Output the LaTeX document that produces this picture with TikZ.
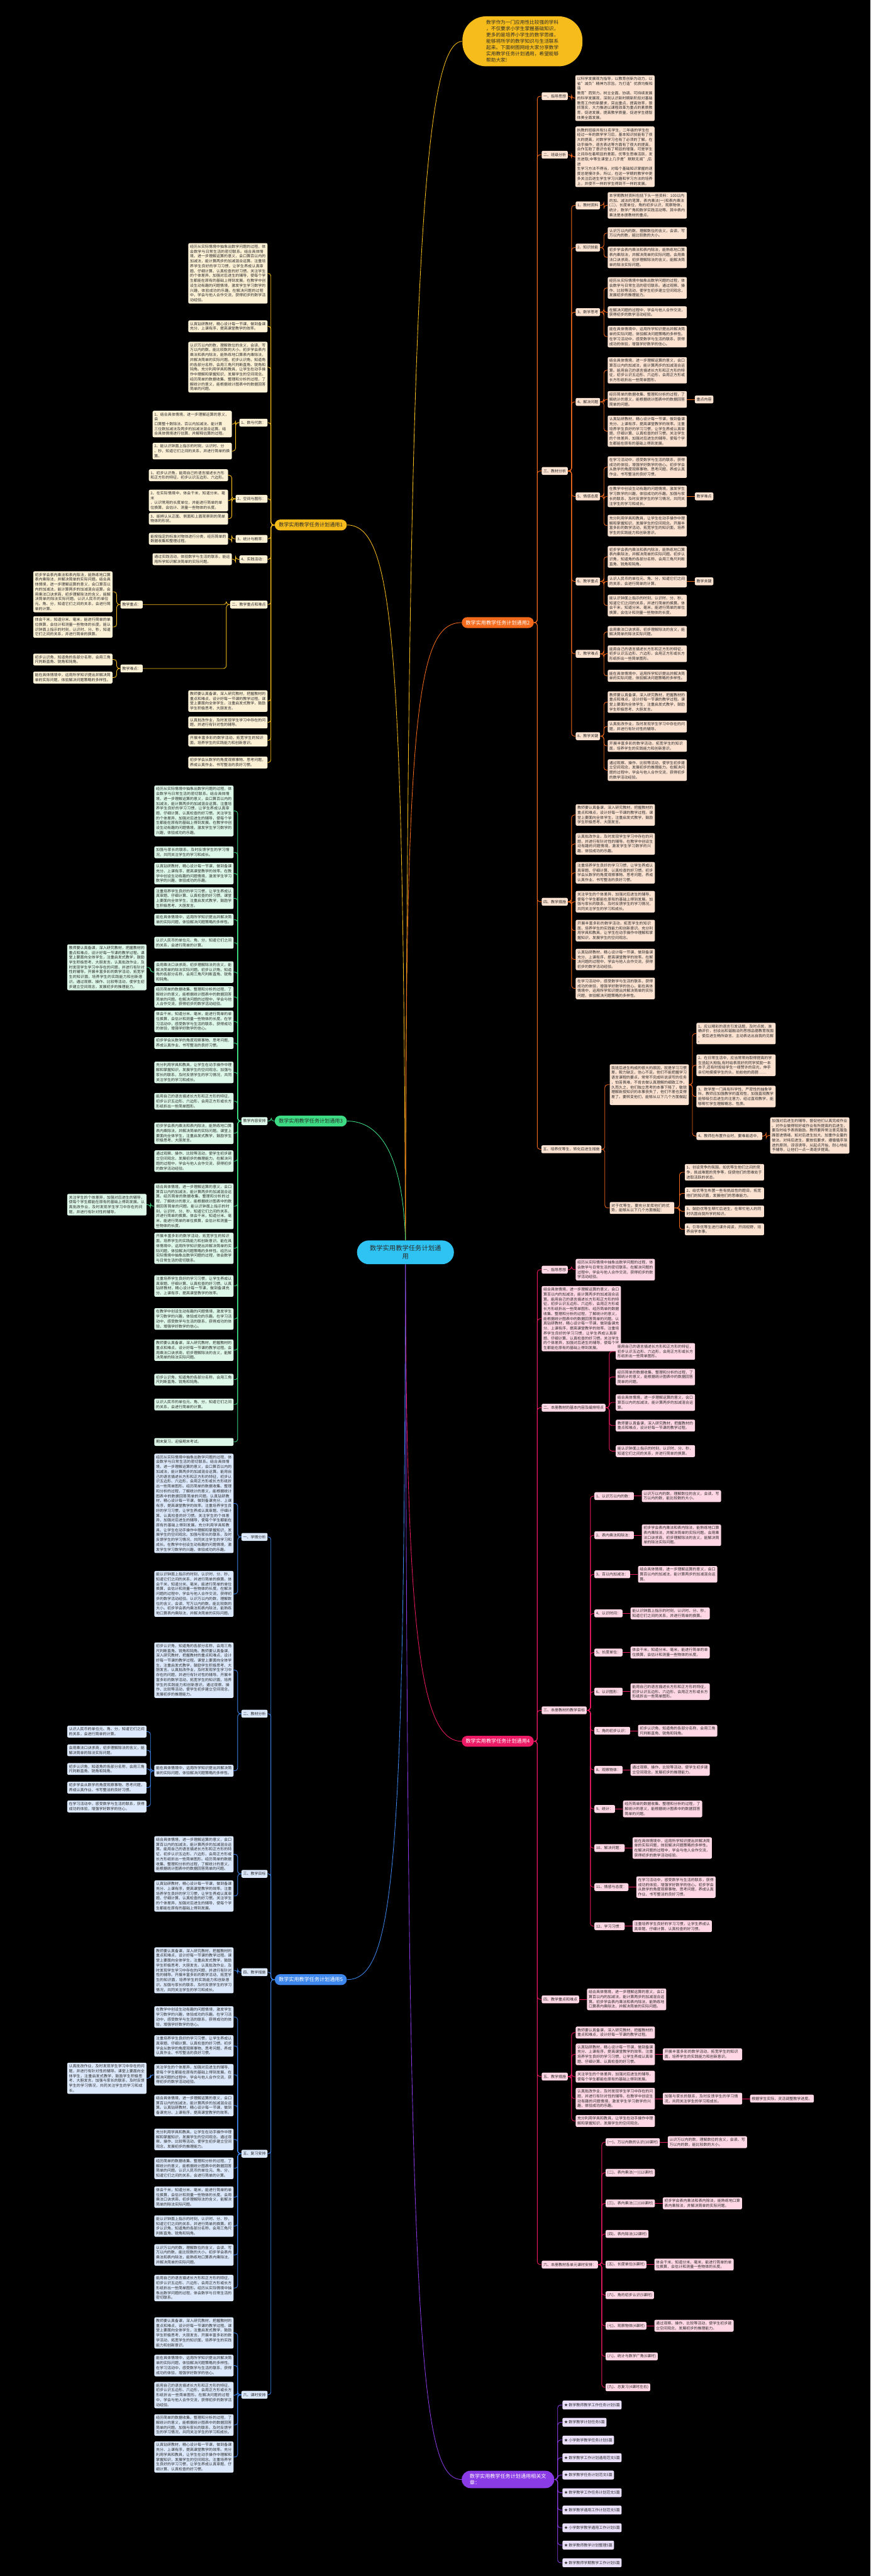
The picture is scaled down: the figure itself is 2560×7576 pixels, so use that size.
\documentclass[tikz,border=0pt]{standalone}
\usepackage{fontspec}
\setmainfont{Noto Sans CJK SC}
\XeTeXlinebreaklocale "zh"
\XeTeXlinebreakskip=0pt plus 1pt
\usetikzlibrary{positioning}
\definecolor{Y}{HTML}{F6BC1B}
\definecolor{YL}{HTML}{FCF0D5}
\definecolor{O}{HTML}{F46A1C}
\definecolor{OL}{HTML}{FCE2D1}
\definecolor{G}{HTML}{3DDC84}
\definecolor{GL}{HTML}{DDF8E8}
\definecolor{P}{HTML}{EC1A64}
\definecolor{PL}{HTML}{FFD7E5}
\definecolor{B}{HTML}{3D86EC}
\definecolor{BL}{HTML}{DCE9FC}
\definecolor{V}{HTML}{8A3BE6}
\definecolor{VL}{HTML}{EBE0FB}
\definecolor{C}{HTML}{2EC3F2}
\definecolor{TX}{HTML}{2B2B2B}
\tikzset{
 base/.style={rounded corners=4pt, inner xsep=5pt, inner ysep=5pt, text=TX,
   font=\fontsize{11.1}{14.3}\selectfont, align=left, minimum height=23pt},
 lY/.style={base, fill=YL}, lO/.style={base, fill=OL}, lG/.style={base, fill=GL},
 lP/.style={base, fill=PL}, lB/.style={base, fill=BL}, lV/.style={base, fill=VL},
 wb/.style={text width=223pt},
 br/.style={rounded corners=16pt, minimum height=32pt, minimum width=212pt, inner sep=3pt,
   font=\fontsize{15}{18}\selectfont},
 cn/.style={line width=1.6pt, rounded corners=8pt},
 cY/.style={cn, draw=Y}, cO/.style={cn, draw=O}, cG/.style={cn, draw=G},
 cP/.style={cn, draw=P}, cB/.style={cn, draw=B}, cV/.style={cn, draw=V},
}
\newcommand\cR[4]{\draw[#1] (#2.east) -- ++(#4,0) |- (#3.west);}
\newcommand\cL[4]{\draw[#1] (#2.west) -- ++(-#4,0) |- (#3.east);}
\newcommand\RX[5]{\node[#2,wb,anchor=north west] (#1) at (#3,#4) {#5};}
\newcommand\LX[5]{\node[#2,wb,anchor=north east] (#1) at (#3,#4) {#5};}
\newcommand\RL[5]{\node[#2,anchor=west] (#1) at (#3,#4) {#5};}
\newcommand\LL[5]{\node[#2,anchor=east] (#1) at (#3,#4) {#5};}
\def\QA{结合具体情境，进一步理解运算的意义，会口算百以内的加减法，能计算两步的加减混合运算。}
\def\QB{能用自己的语言描述长方形和正方形的特征，初步认识五边形、六边形，会用正方形或长方形纸折出一些简单图形。}
\def\QC{经历简单的数据收集、整理和分析的过程，了解统计的意义，能根据统计图表中的数据回答简单的问题。}
\def\QD{认真钻研教材，精心设计每一节课，做到备课充分、上课有序，提高课堂教学的效率。}
\def\QE{注重培养学生良好的学习习惯，让学生养成认真审题、仔细计算、认真检查的好习惯。}
\def\QF{关注学生的个体差异，加强对后进生的辅导，使每个学生都能在原有的基础上得到发展。}
\def\QG{充分利用学具和教具，让学生在动手操作中理解和掌握知识，发展学生的空间观念。}
\def\QH{加强与家长的联系，及时反馈学生的学习情况，共同关注学生的学习和成长。}
\def\QI{在教学中创设生动有趣的问题情境，激发学生学习数学的兴趣，体验成功的乐趣。}
\def\QJ{能认识钟面上指示的时刻，认识时、分、秒，知道它们之间的关系，并进行简单的换算。}
\def\QK{体会千米，知道分米、毫米，能进行简单的单位换算，会估计和测量一些物体的长度。}
\def\QL{经历从实际情境中抽象出数学问题的过程，体会数学与日常生活的密切联系。}
\def\QM{在解决问题的过程中，学会与他人合作交流，获得初步的数学活动经验。}
\def\QN{认识万以内的数，理解数位的含义，会读、写万以内的数，能比较数的大小。}
\def\QO{初步学会表内乘法和表内除法，能熟练地口算表内乘除法，并解决简单的实际问题。}
\def\QP{初步认识角，知道角的各部分名称，会用三角尺判断直角、锐角和钝角。}
\def\QQ{教师要认真备课，深入研究教材，把握教材的重点和难点，设计好每一节课的教学过程。}
\def\QR{课堂上要面向全体学生，注重启发式教学，鼓励学生积极思考、大胆发言。}
\def\QS{认真批改作业，及时发现学生学习中存在的问题，并进行有针对性的辅导。}
\def\QT{开展丰富多彩的数学活动，拓宽学生的知识面，培养学生的实践能力和创新意识。}
\def\QU{通过观察、操作、比较等活动，使学生初步建立空间观念，发展初步的推理能力。}
\def\QV{认识人民币的单位元、角、分，知道它们之间的关系，会进行简单的计算。}
\def\QW{会用乘法口诀求商，初步理解除法的含义，能解决简单的除法实际问题。}
\def\QX{能在具体情境中，运用所学知识提出并解决简单的实际问题，体验解决问题策略的多样性。}
\def\QY{在学习活动中，感受数学与生活的联系，获得成功的体验，增强学好数学的信心。}
\def\QZ{初步学会从数学的角度观察事物、思考问题，养成认真作业、书写整洁的良好习惯。}
\begin{document}
\begin{tikzpicture}[x=1pt,y=-1pt]
\fill[black] (0,0) rectangle (2560,7576);
\useasboundingbox (0,0) rectangle (2560,7576);

% ---------------- centre and main branches
\node[fill=C, rounded corners=35pt, minimum width=285pt, minimum height=70pt, text width=215pt,
  align=center, text=TX, font=\fontsize{19}{24}\selectfont] (CT) at (1192.5,3683) {数学实用教学任务计划通\\用};
\node[fill=Y, rounded corners=70pt, minimum width=353pt, minimum height=147pt, align=left, text=TX,
  font=\fontsize{14.2}{18.3}\selectfont] (TOP) at (1536.5,121.5) {数学作为一门应用性比较强的学科\\，不仅要求小学生掌握基础知识，\\更多的是培养小学生的数学思维，\\能够将所学的数学知识与生活联系\\起来。下面树图网给大家分享数学\\实用教学任务计划通用，希望能够\\帮助大家!};
\node[br, fill=Y, text=TX] (B1) at (914,1544) {数学实用教学任务计划通用1};
\node[br, fill=O, text=white] (B2) at (1464,1831) {数学实用教学任务计划通用2};
\node[br, fill=G, text=TX] (B3) at (914,3297) {数学实用教学任务计划通用3};
\node[br, fill=P, text=white] (B4) at (1464,5121) {数学实用教学任务计划通用4};
\node[br, fill=B, text=white] (B5) at (914,5822) {数学实用教学任务计划通用5};
\node[br, fill=V, text=white, minimum width=272pt, minimum height=51pt, rounded corners=25pt, align=left]
  (B6) at (1494,7292) {数学实用教学任务计划通用相关文\\章：};

\draw[Y, line width=1.6pt] (CT.north) .. controls (1200,1000) and (1235,121) .. (TOP.west);
\draw[Y, line width=1.6pt] (CT.north) .. controls (1185,1900) and (1160,1544) .. (B1.east);
\draw[O, line width=1.6pt] (CT.north) .. controls (1192,2100) and (1225,1831) .. (B2.west);
\draw[G, line width=1.6pt] (CT.north) .. controls (1185,3400) and (1120,3297) .. (B3.east);
\draw[P, line width=1.6pt] (CT.south) .. controls (1195,4800) and (1235,5121) .. (B4.west);
\draw[B, line width=1.6pt] (CT.south) .. controls (1188,5500) and (1160,5822) .. (B5.east);
\draw[V, line width=1.6pt] (CT.south) .. controls (1198,6900) and (1235,7292) .. (B6.west);

% ---------------- branch 1 (left, yellow)
\LX{D1}{lY}{787}{715}{\QL\QA\QE\QF\QI\QM}
\LX{D2}{lY}{787}{942}{\QD}
\LX{D3}{lY}{787}{1005}{\QN\QO\QP\QG\QC}
\LL{L1a}{lY}{787}{1243}{1、数与代数：}
\LX{A1}{lY}{682}{1208}{1、结合具体情境，进一步理解运算的意义，会\\口算整十数除法、百以内加减法、能计算\\三位数加减法及两步的加减法混合运算。结\\合具体情境进行估算，并解释估算的过程。}
\LX{A2}{lY}{682}{1302}{2、能认识钟面上指示的时刻，认识时、分\\、秒，知道它们之间的关系，并进行简单的换\\算。}
\LL{L1b}{lY}{787}{1467}{2、空间与图形：}
\LX{B1a}{lY}{671}{1380}{1、初步认识角，能用自己的语言描述长方形\\和正方形的特征，初步认识五边形、六边形。}
\LX{B1b}{lY}{671}{1440}{2、在实际情境中，体会千米，知道分米、毫米\\，认识常用的长度单位，并能进行简单的单\\位换算，会估计、测量一些物体的长度。}
\LX{B1c}{lY}{671}{1508}{3、能辨认从正面、侧面和上面观察到的简单物体的形状。}
\LL{L1c}{lY}{787}{1585}{3、统计与概率：}
\LX{C1a}{lY}{671}{1567}{能按指定的标准对物体进行分类，经历简单的数据收集和整理过程。}
\LL{L1d}{lY}{787}{1645}{4、实践活动：}
\LX{D1a}{lY}{682}{1627}{通过实践活动，体验数学与生活的联系，能运用所学知识解决简单的实际问题。}
\LL{L1e}{lY}{787}{1778}{二、教学重点和难点}
\LL{K1}{lY}{420}{1778}{教学重点：}
\LX{K1a}{lY}{331}{1680}{\QO\QA\QW\QV}
\LX{K1b}{lY}{331}{1812}{\QK\QJ}
\LL{K2}{lY}{420}{1966}{教学难点：}
\LX{K2a}{lY}{331}{1922}{\QP}
\LX{K2b}{lY}{331}{1975}{\QX}
\LX{D4}{lY}{787}{2030}{\QQ\QR}
\LX{D5}{lY}{787}{2107}{\QS}
\LX{D6}{lY}{787}{2160}{\QT}
\LX{D7}{lY}{787}{2225}{\QZ}
\foreach \c in {D1,D2,D3,L1a,L1b,L1c,L1d,L1e,D4,D5,D6,D7}{\cL{cY}{B1}{\c}{11}}
\cL{cY}{L1a}{A1}{11} \cL{cY}{L1a}{A2}{11}
\cL{cY}{L1b}{B1a}{11} \cL{cY}{L1b}{B1b}{11} \cL{cY}{L1b}{B1c}{11}
\cL{cY}{L1c}{C1a}{11} \cL{cY}{L1d}{D1a}{11}
\cL{cY}{L1e}{K1}{11} \cL{cY}{L1e}{K2}{11}
\cL{cY}{K1}{K1a}{11} \cL{cY}{K1}{K1b}{11}
\cL{cY}{K2}{K2a}{11} \cL{cY}{K2}{K2b}{11}

% ---------------- branch 2 (right, orange)
\RL{L2a}{lO}{1593}{283}{一、指导思想}
\RX{X2a}{lO}{1692}{221}{以科学发展观为指导，以教育创新为动力，以\\省"减负"精神为宗旨。为打造"优质均衡和谐\\教育"而努力。树立全面、协调、可持续发展\\的科学发展观，深刻认识新时期新阶段对基础\\教育工作的新要求，突出重点，提高效率，狠\\抓落实，大力推进以课程改革为重点的素质教\\育，促进发展，提高教学质量，促进学生德智\\体美全面发展。}
\RL{L2b}{lO}{1593}{455}{二、班级分析}
\RX{X2b}{lO}{1692}{372}{执教的班级共有51名学生，二年级的学生在\\经过一年的数学学习后，基本知识技能有了很\\大的提高，对数学学习也有了必须的了解。在\\动手操作，语言表达等方面有了很大的提高，\\合作互助了意识也有了明显的增强，可是学生\\之间存在着明显的差距。优等生思维活跃，发\\言进取;中等生课堂上几乎是"默默无闻";后进\\生学习方法不得当，对每个基础知识掌握的速\\度总是慢许多。所以，在这一学期的教学中更\\多关注后进生学生学习兴趣和学习方法的培养\\上，并使不一样的学生得到不一样的发展。}
\RL{L2c}{lO}{1593}{1385}{三、教材分析}
\RL{G1}{lO}{1693}{604}{1、教材资料}
\RX{o1}{lO}{1787}{565}{本学期教材资料包括下头一些资料：100以内的加、减法的笔算，表内乘法(一)和表内乘法(二)，长度单位，角的初步认识，观察物体，统计，数学广角和数学实践活动等。其中表内乘法是本册教材的重点。}
\RL{G2}{lO}{1693}{728}{2、知识技能}
\RX{o2}{lO}{1787}{668}{\QN}
\RX{o3}{lO}{1787}{725}{\QO\QW}
\RL{G3}{lO}{1693}{918}{3、数学思考}
\RX{o4}{lO}{1787}{815}{\QL\QU}
\RX{o5}{lO}{1787}{901}{\QM}
\RX{o6}{lO}{1787}{958}{\QX\QY}
\RL{G4}{lO}{1693}{1182}{4、解决问题}
\RX{o7}{lO}{1787}{1050}{\QA\QB}
\RX{o8}{lO}{1787}{1150}{\QC}
\RX{o9}{lO}{1787}{1222}{\QD\QE\QF}
\RL{G5}{lO}{1693}{1460}{5、情感态度}
\RX{o10}{lO}{1787}{1342}{\QY\QZ}
\RX{o11}{lO}{1787}{1428}{\QI\QH}
\RX{o12}{lO}{1787}{1514}{\QG\QT}
\RL{G6}{lO}{1693}{1710}{6、教学重点}
\RX{o13}{lO}{1787}{1606}{\QO\QP}
\RX{o14}{lO}{1787}{1692}{\QV}
\RX{o15}{lO}{1787}{1749}{\QJ\QK}
\RL{G7}{lO}{1693}{1923}{7、教学难点}
\RX{o16}{lO}{1787}{1841}{\QW}
\RX{o17}{lO}{1787}{1898}{\QB}
\RX{o18}{lO}{1787}{1970}{\QX}
\RL{G8}{lO}{1693}{2165}{8、教学关键}
\RX{o19}{lO}{1787}{2033}{\QQ\QR}
\RX{o20}{lO}{1787}{2119}{\QS}
\RX{o21}{lO}{1787}{2176}{\QT}
\RX{o22}{lO}{1787}{2233}{\QU\QM}
\node[lO, right=23pt of o8] (sd1) {重点内容};
\node[lO, right=23pt of o11] (sd2) {教学难点};
\node[lO, right=23pt of o14] (sd3) {教学关键};
\draw[cO] (o8) -- (sd1); \draw[cO] (o11) -- (sd2); \draw[cO] (o14) -- (sd3);
\RL{L2d}{lO}{1593}{2652}{四、教学措施}
\RX{w1}{lO}{1693}{2365}{\QQ\QR}
\RX{w2}{lO}{1693}{2450}{\QS\QI}
\RX{w3}{lO}{1693}{2535}{\QE\QZ}
\RX{w4}{lO}{1693}{2620}{\QF\QH}
\RX{w5}{lO}{1693}{2705}{\QT\QG}
\RX{w6}{lO}{1693}{2790}{\QD\QM}
\RX{w7}{lO}{1693}{2875}{\QY\QX}
\RL{L2e}{lO}{1592}{3380}{五、培养优等生，转化后进生措施}
\RX{X2e1}{lO}{1793}{3130}{我班后进生构成的很大的原因，就是学习习惯\\差，毅力缺乏，信心不足。他们不能把握学习\\语言课程的要点，常常不完成听说读写的任务\\，怕苦畏难，不肯去做认真理解的细致工作，\\久而久之，他们独立思考的本事下降了，敏锐\\理解新授知识的本事丧失了，他们不差也变得\\差了。要转变他们，能够从以下几个方面做起\\：}
\RX{X2e1a}{lO}{2048}{3008}{1、应以精彩的语言引发话题，及时点拨，准\\确评价，创设出和谐融洽的思想品德教育氛围\\，使后进生畅所欲言、主动表达出自我的见解\\。}
\RX{X2e1b}{lO}{2048}{3101}{2、在日常生活中，应当常常向取得提高的学\\生竖起大拇指,有时给表现好的同学奖励一本\\本子,还有时投给学生一缕赞许的目光，伸手\\亲切地摸摸学生的头，拍拍他的肩膀……}
\RX{X2e1c}{lO}{2048}{3193}{3、数学是一门具有科学性、严密性的抽象学\\科，教师应加强教学的直观性，加强直观教学\\能够吸引后进生的注意力，经过直观教学，能\\够帮忙学生理解概念、性质。}
\RL{L2e1d}{lO}{2048}{3341}{4、教师在布置作业时，要难易适中，}
\RX{X2e1d}{lO}{2265}{3286}{加强对后进生的辅导，督促他们认真完成作业\\。对作业做得较好或作业有所提高的后进生，\\要及时给予表扬鼓励。教师要异常注意克服急\\躁冒进情绪，如对后进生加大、加重作业量的\\做法。对待后进生，要放低要求，遵循循序渐\\进的原则，谆谆诱导，从起点开始，耐心地给\\予辅导，让他们一点一滴逐步提高。}
\node[lO, text width=180pt, anchor=north west] (X2e2) at (1793,3535) {对于优等生，要充分发挥他们的优势，能够从以下几个方面做起：};
\RX{y1}{lO}{2014}{3423}{1、创设竞争的氛围，如优等生他们之间的竞\\争，挑战难题的竞争等，促使他们的思维处于\\进取活跃的状态。}
\RX{y2}{lO}{2014}{3492}{2、给优等生布置一些有挑战性的题目，拓宽他们的知识面，发展他们的思维能力。}
\RX{y3}{lO}{2014}{3545}{3、鼓励优等生帮忙后进生，在帮忙他人的同时巩固自我所学的知识。}
\RX{y4}{lO}{2014}{3598}{4、引导优等生进行课外阅读，开阔视野，培养自学本事。}
\foreach \c in {L2a,L2b,L2c,L2d,L2e}{\cR{cO}{B2}{\c}{10}}
\cR{cO}{L2a}{X2a}{11} \cR{cO}{L2b}{X2b}{11}
\foreach \c in {G1,G2,G3,G4,G5,G6,G7,G8}{\cR{cO}{L2c}{\c}{11}}
\cR{cO}{G1}{o1}{11}
\cR{cO}{G2}{o2}{11} \cR{cO}{G2}{o3}{11}
\cR{cO}{G3}{o4}{11} \cR{cO}{G3}{o5}{11} \cR{cO}{G3}{o6}{11}
\cR{cO}{G4}{o7}{11} \cR{cO}{G4}{o8}{11} \cR{cO}{G4}{o9}{11}
\cR{cO}{G5}{o10}{11} \cR{cO}{G5}{o11}{11} \cR{cO}{G5}{o12}{11}
\cR{cO}{G6}{o13}{11} \cR{cO}{G6}{o14}{11} \cR{cO}{G6}{o15}{11}
\cR{cO}{G7}{o16}{11} \cR{cO}{G7}{o17}{11} \cR{cO}{G7}{o18}{11}
\cR{cO}{G8}{o19}{11} \cR{cO}{G8}{o20}{11} \cR{cO}{G8}{o21}{11} \cR{cO}{G8}{o22}{11}
\foreach \c in {w1,w2,w3,w4,w5,w6,w7}{\cR{cO}{L2d}{\c}{11}}
\cR{cO}{L2e}{X2e1}{10} \cR{cO}{L2e}{X2e2}{10}
\cR{cO}{X2e1}{X2e1a}{10} \cR{cO}{X2e1}{X2e1b}{10} \cR{cO}{X2e1}{X2e1c}{10} \cR{cO}{X2e1}{L2e1d}{10}
\cR{cO}{L2e1d}{X2e1d}{11}
\foreach \c in {y1,y2,y3,y4}{\cR{cO}{X2e2}{\c}{15}}

% ---------------- branch 3 (left, green)
\LL{L3}{lG}{787}{3297}{教学内容安排}
\LX{g1}{lG}{687}{2310}{\QL\QA\QE\QF\QI}
\LX{g2}{lG}{687}{2489}{\QH}
\LX{g3}{lG}{687}{2537}{\QD\QI}
\LX{g4}{lG}{687}{2610}{\QE\QR}
\LX{g5}{lG}{687}{2687}{\QX}
\LX{g6}{lG}{687}{2755}{\QV}
\LX{g7}{lG}{687}{2827}{\QW\QP}
\LX{g8}{lG}{687}{2900}{\QC\QM}
\LX{g9}{lG}{687}{2972}{\QK\QY}
\LX{g10}{lG}{687}{3050}{\QZ}
\LX{g11}{lG}{687}{3122}{\QG\QH}
\LX{g12}{lG}{687}{3214}{\QB}
\LX{g13}{lG}{687}{3301}{\QO\QR}
\LX{g14}{lG}{687}{3383}{\QU\QM}
\LX{g15}{lG}{687}{3480}{\QA\QC\QJ\QK}
\LX{g16}{lG}{687}{3625}{\QT\QX\QL}
\LX{g17}{lG}{687}{3750}{\QE\QD}
\LX{g18}{lG}{687}{3847}{\QI\QY}
\LX{g19}{lG}{687}{3939}{\QQ\QW}
\LX{g20}{lG}{687}{4040}{\QP}
\LX{g21}{lG}{687}{4113}{\QV}
\LX{g22}{lG}{687}{4229}{期末复习，迎接期末考试。}
\LX{GG1}{lG}{431}{2777}{\QQ\QR\QS\QT\QU}
\LX{GG2}{lG}{431}{3511}{\QF\QS}
\cL{cG}{B3}{L3}{10}
\foreach \c in {g1,g2,g3,g4,g5,g6,g7,g8,g9,g10,g11,g12,g13,g14,g15,g16,g17,g18,g19,g20,g21,g22}{\cL{cG}{L3}{\c}{11}}
\cL{cG}{g7}{GG1}{11} \cL{cG}{g15}{GG2}{11}

% ---------------- branch 4 (right, pink)
\RL{P1}{lP}{1593}{3734}{一、指导思想}
\node[lP, wb, right=23pt of P1] (p1) {\QL\QM};
\RX{P2}{lP}{1593}{3782}{\QA\QB\QC\QD\QE\QF}
\RL{P3}{lP}{1593}{4140}{二、本册教材的基本内容及编排特点}
\RX{p3a}{lP}{1811}{3950}{\QB}
\RX{p3b}{lP}{1811}{4025}{\QC}
\RX{p3c}{lP}{1811}{4100}{\QA}
\RX{p3d}{lP}{1811}{4175}{\QQ}
\RX{p3e}{lP}{1811}{4250}{\QJ}
\RL{P4}{lP}{1593}{5030}{三、本册教材的教学目标}
\RL{q1}{lP}{1748}{4400}{1、认识万以内的数：}
\RL{q2}{lP}{1748}{4515}{2、表内乘法和除法：}
\RL{q3}{lP}{1748}{4630}{3、百以内加减法：}
\RL{q4}{lP}{1748}{4745}{4、认识时间：}
\RL{q5}{lP}{1748}{4860}{5、长度单位：}
\RL{q6}{lP}{1748}{4975}{6、认识图形：}
\RL{q7}{lP}{1748}{5090}{7、角的初步认识：}
\RL{q8}{lP}{1748}{5205}{8、观察物体：}
\RL{q9}{lP}{1748}{5320}{9、统计：}
\RL{q10}{lP}{1748}{5435}{10、解决问题：}
\RL{q11}{lP}{1748}{5550}{11、情感与态度：}
\RL{q12}{lP}{1748}{5665}{12、学习习惯：}
\node[lP, wb, right=23pt of q1] (q1b) {\QN};
\node[lP, wb, right=23pt of q2] (q2b) {\QO\QW};
\node[lP, wb, right=23pt of q3] (q3b) {\QA};
\node[lP, wb, right=23pt of q4] (q4b) {\QJ};
\node[lP, wb, right=23pt of q5] (q5b) {\QK};
\node[lP, wb, right=23pt of q6] (q6b) {\QB};
\node[lP, wb, right=23pt of q7] (q7b) {\QP};
\node[lP, wb, right=23pt of q8] (q8b) {\QU};
\node[lP, wb, right=23pt of q9] (q9b) {\QC};
\node[lP, wb, right=23pt of q10] (q10b) {\QX\QM};
\node[lP, wb, right=23pt of q11] (q11b) {\QY\QZ};
\node[lP, wb, right=23pt of q12] (q12b) {\QE};
\RL{P5}{lP}{1593}{5880}{四、教学重点和难点}
\node[lP, wb, right=23pt of P5] (p5) {\QA\QO};
\RL{P6}{lP}{1593}{6107}{五、教学措施}
\RX{r1}{lP}{1693}{5960}{\QQ}
\RX{r2}{lP}{1693}{6010}{\QD\QE}
\RX{r3}{lP}{1693}{6090}{\QF}
\RX{r4}{lP}{1693}{6140}{\QS\QI}
\RX{r5}{lP}{1693}{6220}{\QG}
\node[lP, wb, right=23pt of r2] (s1) {\QT};
\node[lP, wb, right=23pt of r4] (s2) {\QH};
\node[lP, right=23pt of s2] (s3) {根据学生实际，灵活调整教学进度。};
\RL{P7}{lP}{1593}{6660}{六、本册教材各单元课时安排：}
\RL{t1}{lP}{1781}{6300}{(一)、万以内数的认识(10课时)}
\RL{t2}{lP}{1781}{6390}{(二)、表内乘法(一)(12课时)}
\RL{t3}{lP}{1781}{6480}{(三)、表内乘法(二)(10课时)}
\RL{t4}{lP}{1781}{6570}{(四)、表内除法(12课时)}
\RL{t5}{lP}{1781}{6660}{(五)、长度单位(6课时)}
\RL{t6}{lP}{1781}{6750}{(六)、角的初步认识(5课时)}
\RL{t7}{lP}{1781}{6840}{(七)、观察物体(4课时)}
\RL{t8}{lP}{1781}{6930}{(八)、统计与数学广角(6课时)}
\RL{t9}{lP}{1781}{7021}{(九)、总复习(4课时左右)}
\node[lP, wb, right=23pt of t1] (t1b) {\QN};
\node[lP, wb, right=23pt of t3] (t3b) {\QO};
\node[lP, wb, right=23pt of t5] (t5b) {\QK};
\node[lP, wb, right=23pt of t7] (t7b) {\QU};
\foreach \c in {P1,P2,P3,P4,P5,P6,P7}{\cR{cP}{B4}{\c}{10}}
\cR{cP}{P1}{p1}{11}
\foreach \c in {p3a,p3b,p3c,p3d,p3e}{\cR{cP}{P3}{\c}{11}}
\foreach \c in {q1,q2,q3,q4,q5,q6,q7,q8,q9,q10,q11,q12}{\cR{cP}{P4}{\c}{11} \draw[cP] (\c) -- (\c b);}
\draw[cP] (P5) -- (p5);
\foreach \c in {r1,r2,r3,r4,r5}{\cR{cP}{P6}{\c}{11}}
\draw[cP] (r2) -- (s1); \draw[cP] (r4) -- (s2); \draw[cP] (s2) -- (s3);
\foreach \c in {t1,t2,t3,t4,t5,t6,t7,t8,t9}{\cR{cP}{P7}{\c}{11}}
\draw[cP] (t1) -- (t1b); \draw[cP] (t3) -- (t3b); \draw[cP] (t5) -- (t5b); \draw[cP] (t7) -- (t7b);

% ---------------- branch 5 (left, blue)
\LL{E1}{lB}{787}{4520}{一、学情分析}
\LX{b1}{lB}{687}{4275}{\QL\QA\QB\QC\QD\QE\QF\QG\QH\QI}
\LX{b2}{lB}{687}{4620}{\QJ\QK\QM\QN\QO}
\LL{E2}{lB}{787}{5040}{二、教材分析}
\LX{b3}{lB}{687}{4830}{\QP\QQ\QR\QS\QT\QU}
\LX{M5}{lB}{687}{5190}{\QX}
\LX{m1}{lB}{431}{5075}{\QV}
\LX{m2}{lB}{431}{5130}{\QW}
\LX{m3}{lB}{431}{5185}{\QP}
\LX{m4}{lB}{431}{5240}{\QZ}
\LX{m5}{lB}{431}{5295}{\QY}
\LL{E3}{lB}{787}{5511}{三、教学目标}
\LX{b4}{lB}{687}{5400}{\QA\QB\QC}
\LX{b5}{lB}{687}{5530}{\QD\QE\QF}
\LL{E4}{lB}{787}{5800}{四、教学措施}
\LX{b6}{lB}{687}{5727}{\QQ\QR\QS\QT\QH}
\LL{E5}{lB}{787}{6334}{五、复习安排}
\LX{c1}{lB}{687}{5900}{\QI\QY}
\LX{c2}{lB}{687}{5985}{\QE\QZ}
\LX{c3}{lB}{687}{6070}{\QF\QM}
\LX{c4}{lB}{687}{6160}{\QA\QD}
\LX{c5}{lB}{687}{6260}{\QG\QU}
\LX{c6}{lB}{687}{6345}{\QC\QV}
\LX{c7}{lB}{687}{6430}{\QK\QW}
\LX{c8}{lB}{687}{6515}{\QJ\QP}
\LX{c9}{lB}{687}{6600}{\QN\QO}
\LX{c10}{lB}{687}{6690}{\QB\QL}
\LX{gc3}{lB}{431}{6066}{\QS\QR\QH}
\LL{E6}{lB}{787}{7043}{六、课时安排}
\LX{d1}{lB}{687}{6815}{\QQ\QR\QT}
\LX{d2}{lB}{687}{6925}{\QX\QY}
\LX{d3}{lB}{687}{7005}{\QB\QM}
\LX{d4}{lB}{687}{7100}{\QC\QH}
\LX{d5}{lB}{687}{7180}{\QD\QG\QE}
\foreach \c in {E1,E2,E3,E4,E5,E6}{\cL{cB}{B5}{\c}{11}}
\cL{cB}{E1}{b1}{11} \cL{cB}{E1}{b2}{11}
\cL{cB}{E2}{b3}{11} \cL{cB}{E2}{M5}{11}
\foreach \c in {m1,m2,m3,m4,m5}{\cL{cB}{M5}{\c}{11}}
\cL{cB}{E3}{b4}{11} \cL{cB}{E3}{b5}{11}
\cL{cB}{E4}{b6}{11}
\foreach \c in {c1,c2,c3,c4,c5,c6,c7,c8,c9,c10}{\cL{cB}{E5}{\c}{11}}
\cL{cB}{c3}{gc3}{11}
\foreach \c in {d1,d2,d3,d4,d5}{\cL{cB}{E6}{\c}{11}}

% ---------------- branch 6 (right, purple)
\foreach \n/\yy/\t in {1/7073/数学教师教学工作任务计划5篇, 2/7124/数学教学计划任务5篇,
  3/7176/小学数学教学任务计划5篇, 4/7228/数学教学工作计划通用范文5篇,
  5/7279/数学教学任务计划范文5篇, 6/7331/数学教学工作任务计划范文5篇,
  7/7382/数学教学通用工作计划范文5篇, 8/7434/小学数学教学通用工作计划5篇,
  9/7485/数学教师教学计划整理5篇, 10/7537/数学教师学期教学工作计划5篇}{
  \node[lV, anchor=west, minimum height=26pt] (V\n) at (1654,\yy) {★ \t};
  \cR{cV}{B6}{V\n}{10}
}
\end{tikzpicture}
\end{document}
